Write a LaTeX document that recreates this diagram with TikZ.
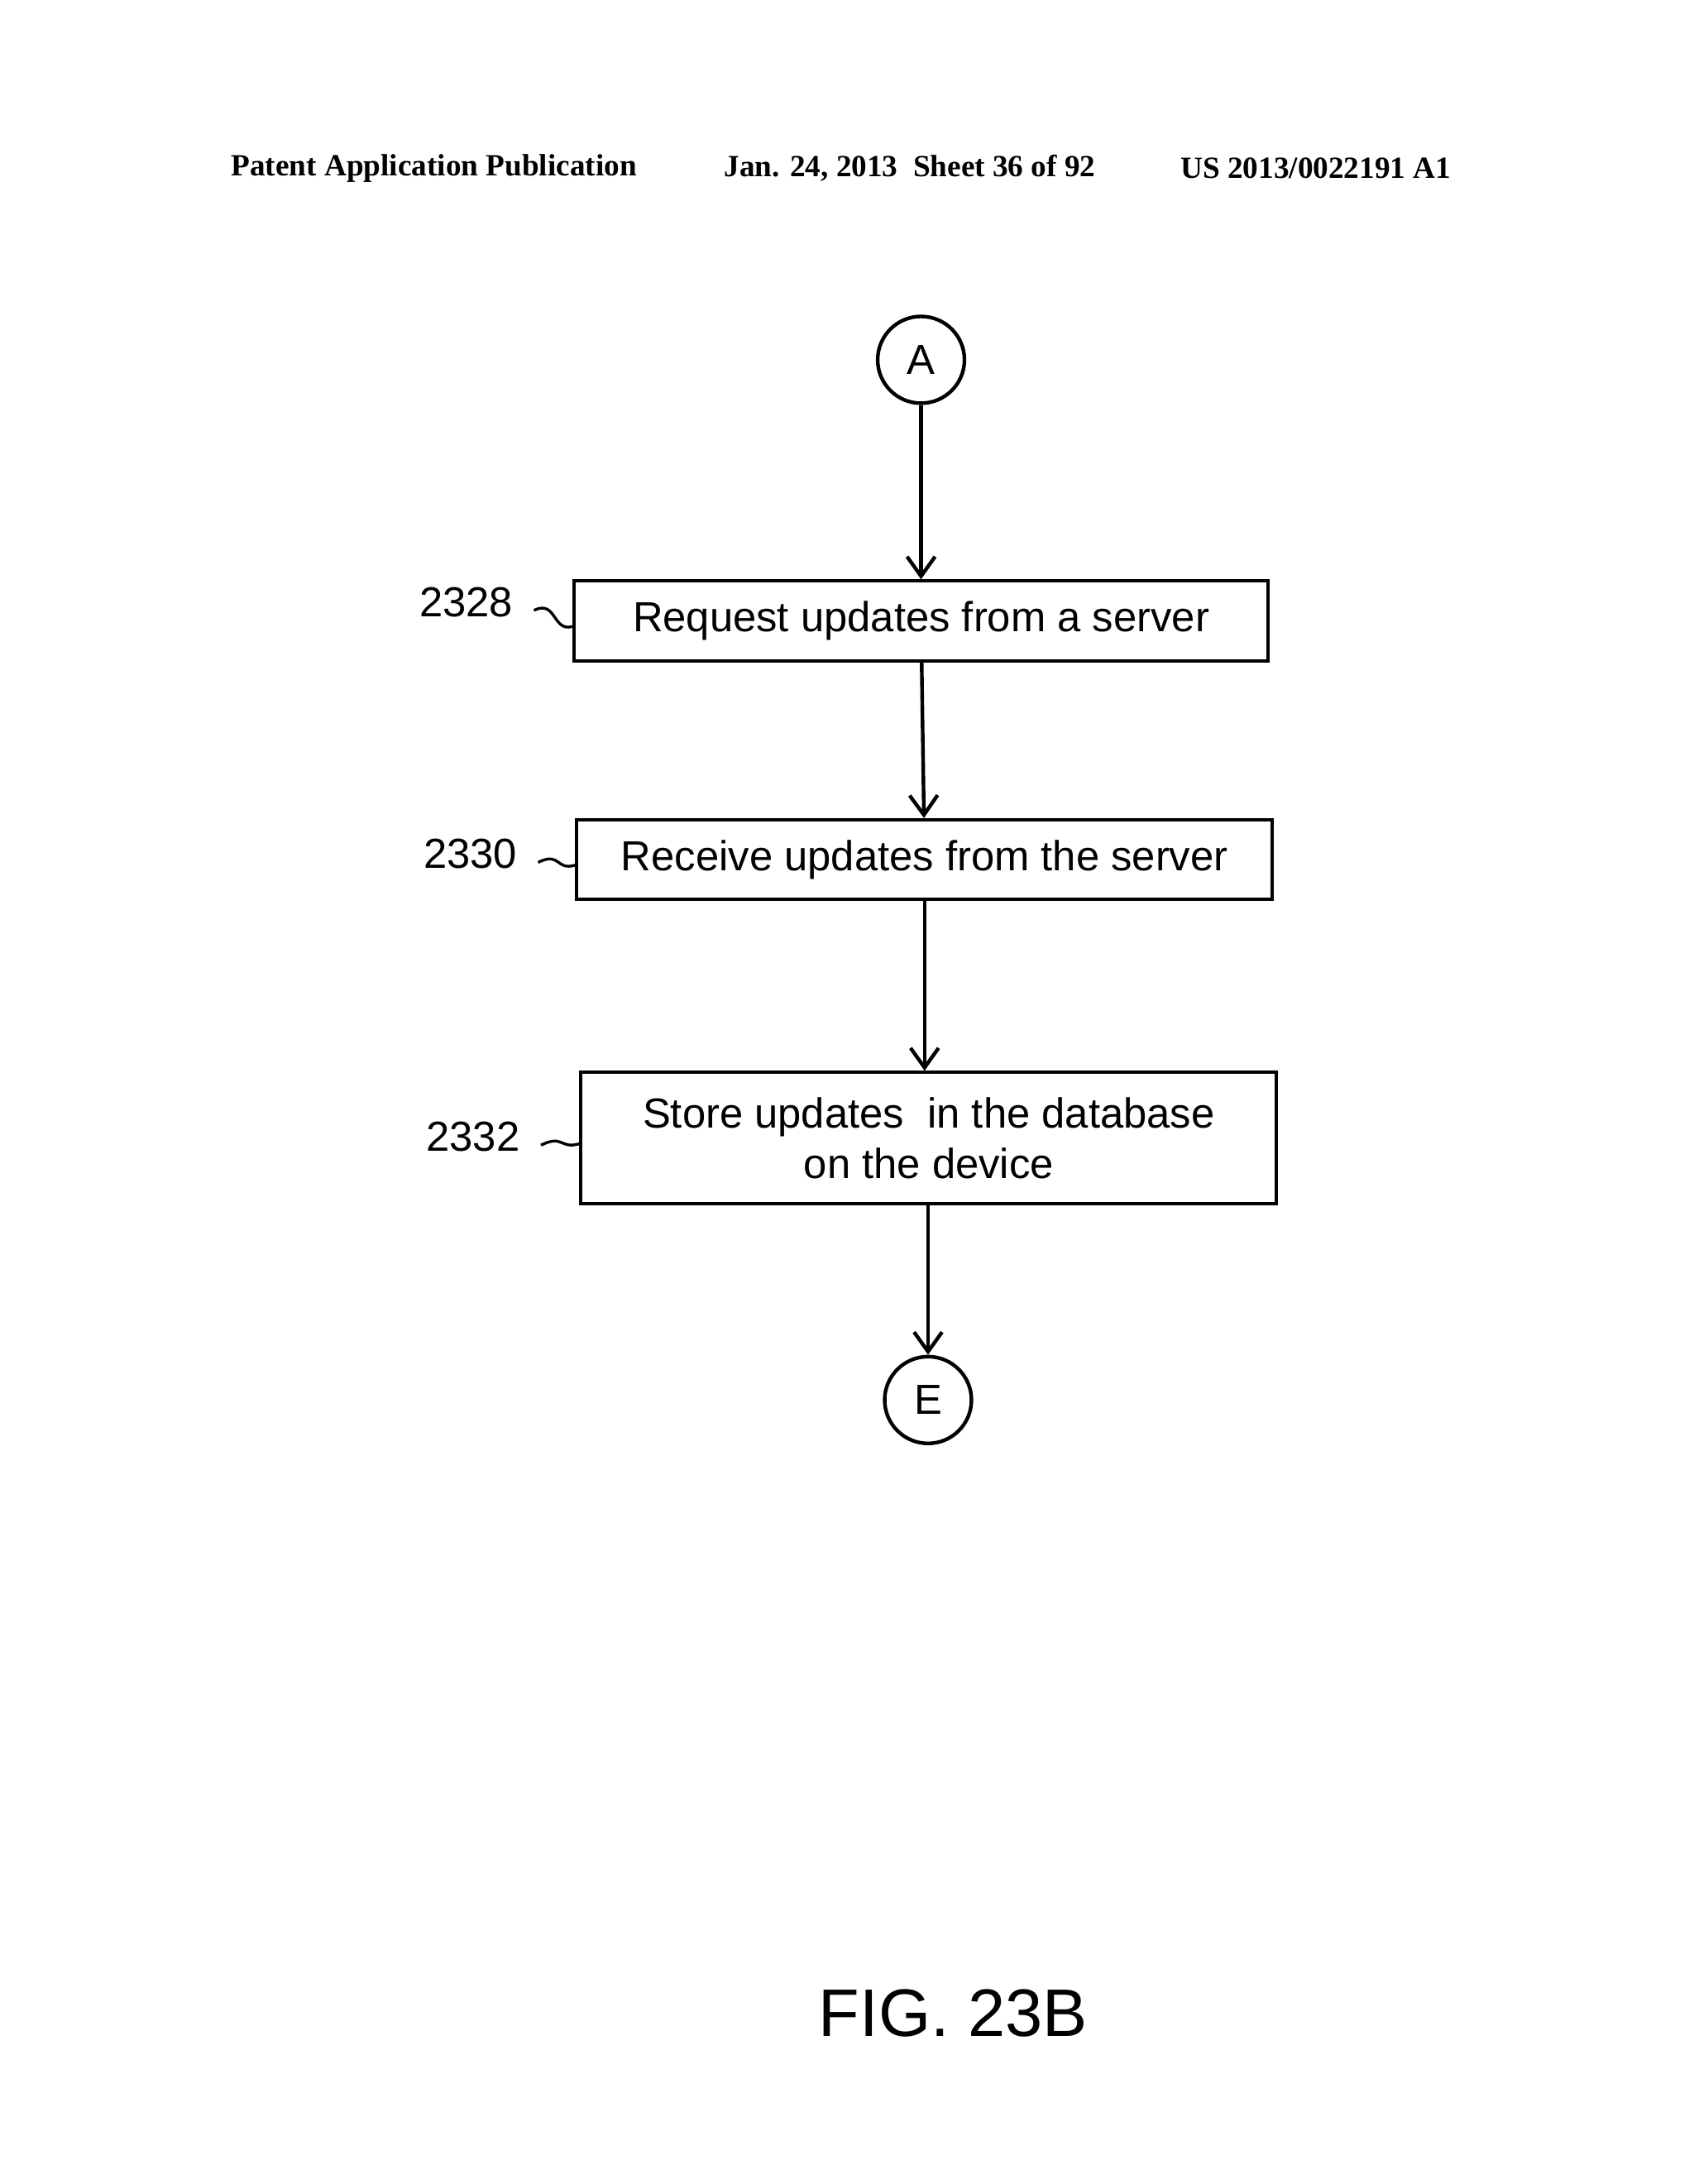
\documentclass[tikz,border=0pt]{standalone}
\usepackage{fontspec}
\setmainfont{Liberation Sans}
\newfontfamily\hdr{Liberation Serif}
\usetikzlibrary{arrows.meta}
\begin{document}
\begin{tikzpicture}[x=0.5pt,y=-0.5pt,
  box/.style={draw,line width=1.2pt,minimum height=28.5pt,inner sep=0pt,font=\fontsize{15}{18}\selectfont,align=center},
  conn/.style={draw,line width=1.3pt,circle,minimum size=31pt,inner sep=0pt,font=\fontsize{15}{18}\selectfont},
  arr/.style={line width=1.3pt,-{Straight Barb[length=7pt,width=10pt]}},
  lbl/.style={font=\fontsize{15}{18}\selectfont},
  hd/.style={font=\hdr\bfseries\fontsize{11}{13}\selectfont}]
\useasboundingbox (0,0) rectangle (1210,1560);
\node[hd] (h1) at (310,120) {Patent Application Publication};
\node[hd] (h2) at (650,120) {Jan. 24, 2013\ \ Sheet 36 of 92};
\node[hd] (h3) at (940,120) {US 2013/0022191 A1};
\node[conn] (A) at (658,257) {A};
\node[box,minimum width=248pt] (b1) at (658,443.5) {Request updates from a server};
\node[box,minimum width=248.5pt] (b2) at (660.5,614) {Receive updates from the server};
\node[box,minimum width=248.5pt,minimum height=47pt] (b3) at (663.5,813) {Store updates\ \ in the database\\on the device};
\node[conn] (E) at (663,1000) {E};
\draw[arr] (A) -- (b1.north -| A);
\draw[arr] (b1) -- (b2);
\draw[arr] (b2.south -| b2) -- (b3.north -| b2);
\draw[arr] (b3.south -| E) -- (E);
\node[lbl] (l1) at (333,430) {2328};
\node[lbl] (l2) at (336,610) {2330};
\node[lbl] (l3) at (338,812) {2332};
\foreach \l/\b in {l1/b1,l2/b2,l3/b3}{
  \draw[line width=1pt] ([xshift=4pt,yshift=-3pt]\l.east) .. controls +(8pt,4pt) and +(-7pt,-2pt) .. ([yshift=-2pt]\b.west);
}
\node[font=\fontsize{24}{28}\selectfont] (fig) at (681,1438) {FIG. 23B};
\end{tikzpicture}
\end{document}
